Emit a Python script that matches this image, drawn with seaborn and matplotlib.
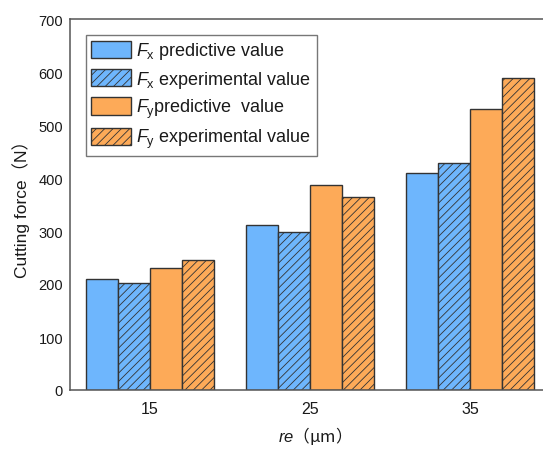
import matplotlib
matplotlib.use("Agg")
import matplotlib.pyplot as plt
import seaborn as sns
import pandas as pd
from matplotlib.patches import Patch

categories = ["15", "25", "35"]
fx_pred = [210, 312, 410]
fx_exp = [201, 299, 429]
fy_pred = [231, 386, 530]
fy_exp = [246, 365, 588]
series_names = ["Fx pred", "Fx exp", "Fy pred", "Fy exp"]
legend_labels = [r"$F_\mathrm{x}$ predictive value",
                 r"$F_\mathrm{x}$ experimental value",
                 r"$F_\mathrm{y}$predictive  value",
                 r"$F_\mathrm{y}$ experimental value"]
y_ticks = [0, 100, 200, 300, 400, 500, 600, 700]

colors = ["#6EB6FD", "#6EB6FD", "#FDAA58", "#FDAA58"]
hatches = ["", "////", "", "////"]

sns.set_style("white")
plt.rcParams["font.family"] = ["Liberation Sans", "Noto Sans CJK SC", "DejaVu Sans"]
plt.rcParams["mathtext.fontset"] = "custom"
plt.rcParams["mathtext.rm"] = "Liberation Sans"
plt.rcParams["mathtext.it"] = "Liberation Sans:italic"
plt.rcParams["hatch.linewidth"] = 0.6

rows = []
for name, vals in zip(series_names, [fx_pred, fx_exp, fy_pred, fy_exp]):
    for c, v in zip(categories, vals):
        rows.append({"re": c, "force": v, "series": name})
df = pd.DataFrame(rows)

fig = plt.figure(figsize=(5.43, 4.52), dpi=100)
ax = fig.add_axes([70 / 543, 61 / 452, 480 / 543, 371 / 452])

sns.barplot(data=df, x="re", y="force", hue="series", order=categories,
            hue_order=series_names, palette=dict(zip(series_names, colors)),
            saturation=1, edgecolor="#333333", linewidth=1.0, width=0.8,
            ax=ax, legend=False)

n = len(categories)
bars = [p for p in ax.patches]
for i, p in enumerate(bars[: n * len(series_names)]):
    p.set_hatch(hatches[i // n])

ax.set_xlim(-0.5, 2.5)
ax.set_ylim(0, 700)
ax.set_yticks(y_ticks)
ax.tick_params(axis="y", direction="in", length=5, width=1, color="#555555",
               labelsize=10.5, pad=5, labelcolor="#1a1a1a")
ax.tick_params(axis="x", length=0, labelsize=11.5, pad=8, labelcolor="#1a1a1a")

for side in ["left", "bottom", "top"]:
    ax.spines[side].set_color("#555555")
    ax.spines[side].set_linewidth(1.1)
ax.spines["right"].set_visible(False)

ax.set_ylabel("Cutting force（N）", fontsize=12.5, color="#1a1a1a", labelpad=6)
ax.set_xlabel(r"$\mathit{re}$（μm）", fontsize=12, color="#1a1a1a",
              family="Noto Sans CJK SC", labelpad=6)

handles = [Patch(facecolor=c, edgecolor="#333333", hatch=h, linewidth=1.0)
           for c, h in zip(colors, hatches)]
leg = ax.legend(handles, legend_labels, loc="upper left",
                bbox_to_anchor=(0.033, 0.957), borderaxespad=0,
                fontsize=13, handlelength=2.2, handleheight=1.1,
                handletextpad=0.3, labelspacing=0.4, borderpad=0.3,
                fancybox=False, framealpha=1, edgecolor="#777777")
leg.get_frame().set_linewidth(1.0)
for t in leg.get_texts():
    t.set_color("#1a1a1a")

fig.savefig("out.png", dpi=100)
